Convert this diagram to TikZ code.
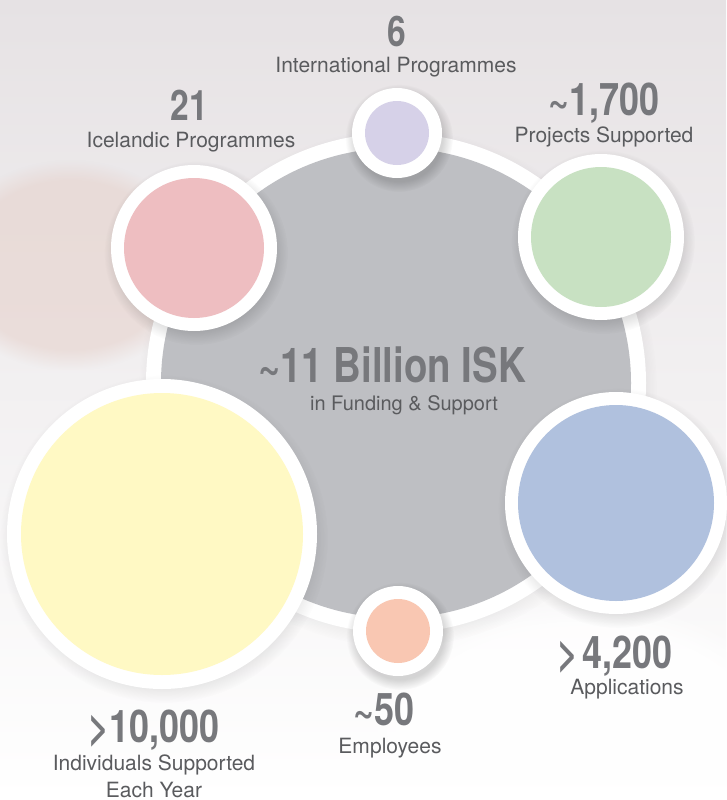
\documentclass[tikz,border=0pt]{standalone}
\usepackage{fontspec}
\setmainfont{TeX Gyre Heros}
\newfontfamily\numfont[FakeStretch=0.8]{TeX Gyre Heros}
\usetikzlibrary{fadings}

\definecolor{bgTop}{HTML}{E6E2E4}
\definecolor{bgMid}{HTML}{EDEBEC}
\definecolor{skin}{HTML}{E6D2CC}
\definecolor{hubGray}{HTML}{BEBFC3}
\definecolor{numGray}{HTML}{77787C}
\definecolor{labelGray}{HTML}{5A5B5E}
\definecolor{intlPurple}{HTML}{D6D1E8}
\definecolor{icePink}{HTML}{EEBEC1}
\definecolor{projGreen}{HTML}{C8E1C2}
\definecolor{appBlue}{HTML}{B0C1DE}
\definecolor{staffOrange}{HTML}{F9C7B2}
\definecolor{peopleYellow}{HTML}{FFF9C4}

\tikzset{
  softshadow/.style={black, opacity=0.16, shift={(2,5)},
    path fading=circle with fuzzy edge 20 percent},
  ring/.style={circle, fill=white, inner sep=0pt},
  disc/.style={circle, inner sep=0pt},
  numtext/.style={anchor=base, text=numGray, inner sep=0pt,
    font=\numfont\bfseries\fontsize{45}{45}\selectfont},
  labeltext/.style={anchor=base, text=labelGray, inner sep=0pt, align=center,
    font=\fontsize{21}{27}\selectfont}
}

% #1 name, #2 centre, #3 outer radius, #4 inner radius, #5 colour
\newcommand{\statCircle}[5]{%
  \fill[softshadow] (#2) circle ({#3+9});
  \node[ring, minimum size=2*#3] (#1Ring) at (#2) {};
  \node[disc, fill=#5, minimum size=2*#4] (#1) at (#2) {};
}

\begin{document}
\begin{tikzpicture}[x=1pt, y=-1pt]
  \useasboundingbox (0,0) rectangle (726,800);

  % blurred backdrop
  \shade[top color=bgTop, middle color=bgMid, bottom color=white]
    (0,0) rectangle (726,800);
  \fill[skin, opacity=0.6, path fading=circle with fuzzy edge 20 percent]
    (-60,160) rectangle (200,370);
  \fill[white, opacity=0.8, path fading=circle with fuzzy edge 20 percent]
    (360,600) rectangle (800,860);

  % centre disc
  \statCircle{hub}{396,383}{250}{235}{hubGray}

  % satellite discs
  \statCircle{intl}{397,133}{45}{32}{intlPurple}
  \statCircle{ice}{194,248}{83}{70}{icePink}
  \statCircle{proj}{601,237}{83}{70}{projGreen}
  \statCircle{app}{616,503}{111}{98}{appBlue}
  \statCircle{staff}{398,631}{45}{32}{staffOrange}
  \statCircle{people}{162,534}{155}{141}{peopleYellow}

  % figures and captions
  \node[numtext, font=\numfont\bfseries\fontsize{48}{48}\selectfont]
    (hubNum) at (392,382) {\textasciitilde11 Billion ISK};
  \node[labeltext, font=\fontsize{20}{24}\selectfont]
    (hubLabel) at (404,410) {in Funding \& Support};

  \node[numtext, font=\numfont\bfseries\fontsize{42}{42}\selectfont]
    (intlNum) at (397,47) {6};
  \node[labeltext] (intlLabel) at (396,72) {International Programmes};

  \node[numtext, font=\numfont\bfseries\fontsize{42}{42}\selectfont]
    (iceNum) at (189,120) {21};
  \node[labeltext] (iceLabel) at (191,147) {Icelandic Programmes};

  \node[numtext] (projNum) at (604,115) {\textasciitilde1,700};
  \node[labeltext] (projLabel) at (604,142) {Projects Supported};

  \node[numtext] (appNum) at (615,668) {>\kern4pt4,200};
  \node[labeltext] (appLabel) at (627,694) {Applications};

  \node[numtext] (staffNum) at (384,725) {\textasciitilde50};
  \node[labeltext] (staffLabel) at (390,753) {Employees};

  \node[numtext] (peopleNum) at (154,742) {>10,000};
  % base of a two-line node sits on its last line
  \node[labeltext] (peopleLabel) at (154,797) {Individuals Supported\\Each Year};
\end{tikzpicture}
\end{document}
